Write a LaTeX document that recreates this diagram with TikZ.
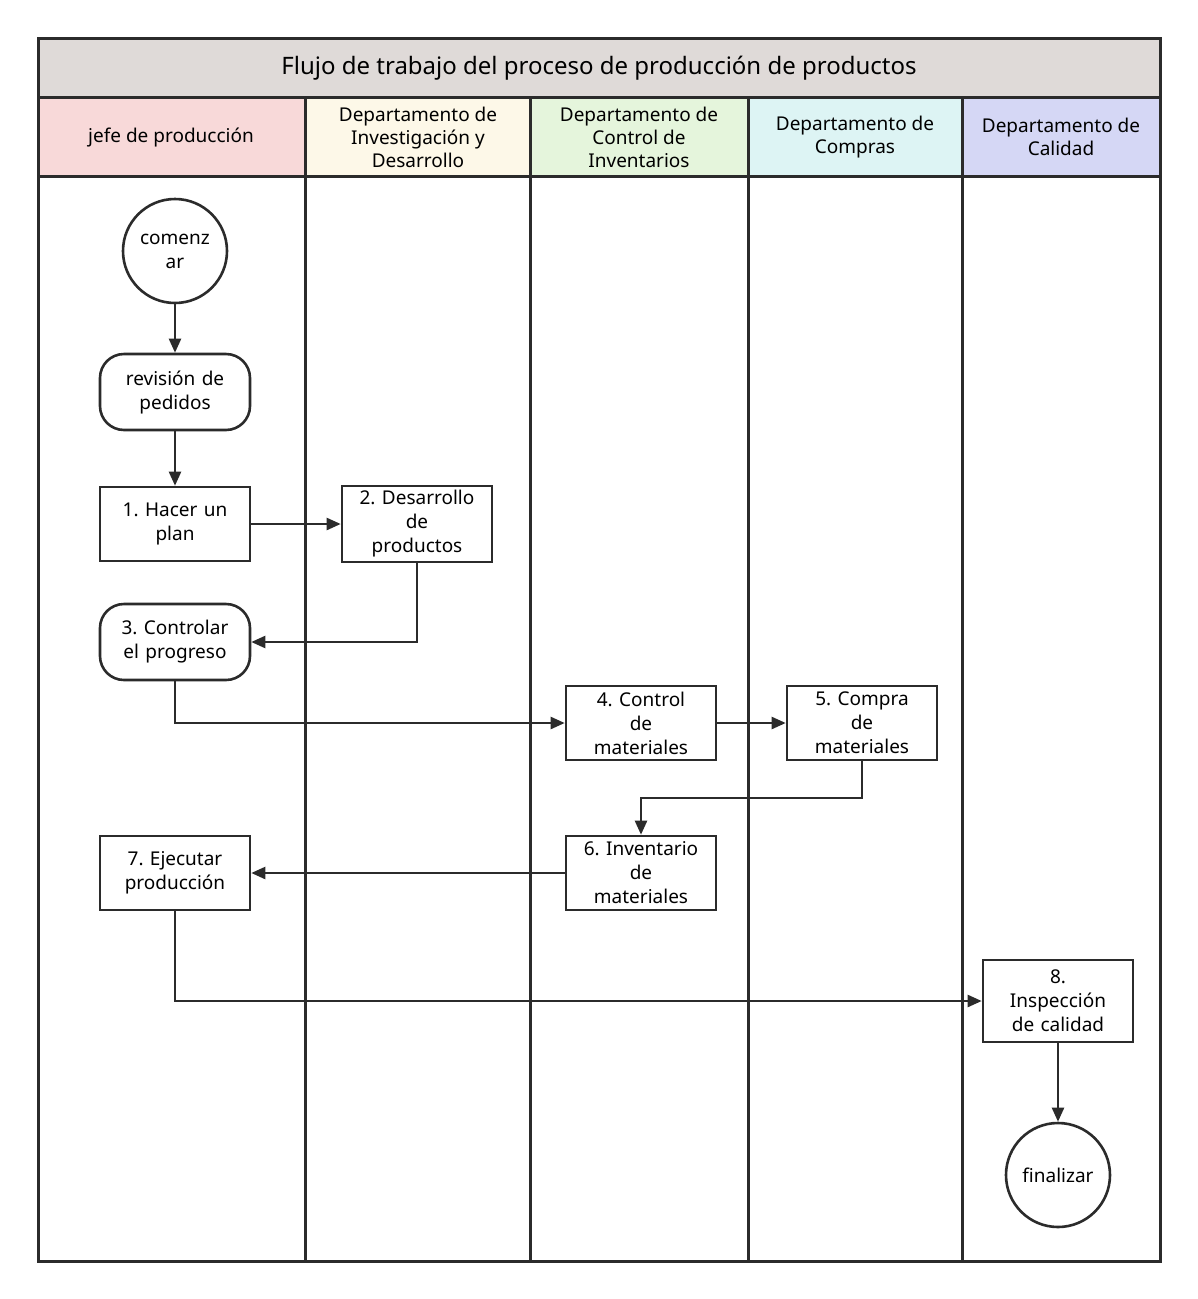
\documentclass[tikz,border=0pt]{standalone}
\usepackage{fontspec}
\setmainfont{Noto Sans}
\usetikzlibrary{arrows.meta}
\frenchspacing
\definecolor{tgray}{HTML}{DFDAD8}
\definecolor{hpink}{HTML}{F8D9D9}
\definecolor{hyel}{HTML}{FDF8E8}
\definecolor{hgrn}{HTML}{E5F5DC}
\definecolor{hcyan}{HTML}{DDF4F4}
\definecolor{hblue}{HTML}{D5D7F5}
\definecolor{ln}{HTML}{2B2B2B}
\tikzset{
 box/.style={draw=ln,line width=2.6pt,minimum width=150pt,minimum height=74pt,align=center,font=\fontsize{19}{24}\selectfont,text width=140pt,inner sep=0pt},
 rbox/.style={box,rounded corners=24pt},
 circ/.style={draw=ln,line width=2.6pt,circle,minimum size=104pt,align=center,font=\fontsize{19}{24}\selectfont,inner sep=0pt},
 arr/.style={draw=ln,line width=2.3pt,-{Triangle[length=14pt,width=12pt]}},
 hdr/.style={align=center,font=\fontsize{19}{23}\selectfont},
 lane/.style={draw=ln,line width=3pt}
}
\begin{document}
\begin{tikzpicture}[x=1pt,y=-1pt]
\useasboundingbox (0,0) rectangle (1198,1299);
\fill[tgray] (38,38) rectangle (1160,97);
\fill[hpink] (38,97) rectangle (305,176);
\fill[hyel] (305,97) rectangle (530,176);
\fill[hgrn] (530,97) rectangle (748,176);
\fill[hcyan] (748,97) rectangle (962,176);
\fill[hblue] (962,97) rectangle (1160,176);
\draw[lane] (38,38) rectangle (1160,1261);
\draw[lane] (38,97) -- (1160,97);
\draw[lane] (38,176) -- (1160,176);
\foreach \x in {305,530,748,962} \draw[lane] (\x,97) -- (\x,1261);
\node[font=\fontsize{24}{28}\selectfont] (title) at (599,68) {Flujo de trabajo del proceso de producción de productos};
\node[hdr] (h1) at (171,137) {jefe de producción};
\node[hdr] (h2) at (418,137) {Departamento de\\Investigación y\\Desarrollo};
\node[hdr] (h3) at (639,137) {Departamento de\\Control de\\Inventarios};
\node[hdr] (h4) at (855,137) {Departamento de\\Compras};
\node[hdr] (h5) at (1061,137) {Departamento de\\Calidad};

\node[circ] (start) at (175,251) {comenz\\ar};
\node[rbox,minimum height=76pt] (rev) at (175,392) {revisión de\\pedidos};
\node[box] (n1) at (175,524) {1. Hacer un\\plan};
\node[box,minimum height=76pt] (n2) at (417,524) {2. Desarrollo\\de\\productos};
\node[rbox,minimum height=76pt] (n3) at (175,642) {3. Controlar\\el progreso};
\node[box] (n4) at (641,723) {4. Control\\de\\materiales};
\node[box] (n5) at (862,723) {5. Compra\\de\\materiales};
\node[box] (n6) at (641,873) {6. Inventario\\de\\materiales};
\node[box] (n7) at (175,873) {7. Ejecutar\\producción};
\node[box,minimum height=82pt] (n8) at (1058,1001) {8.\\Inspección\\de calidad};
\node[circ] (end) at (1058,1175) {finalizar};

\draw[arr] (start) -- (rev);
\draw[arr] (rev) -- (n1);
\draw[arr] (n1) -- (n2);
\draw[arr] (n2.south) |- (n3.east);
\draw[arr] (n3.south) |- (n4.west);
\draw[arr] (n4) -- (n5);
\draw[arr] (n5.south) -- ++(0,37) -| (n6.north);
\draw[arr] (n6) -- (n7);
\draw[arr] (n7.south) |- (n8.west);
\draw[arr] (n8) -- (end);
\end{tikzpicture}
\end{document}
